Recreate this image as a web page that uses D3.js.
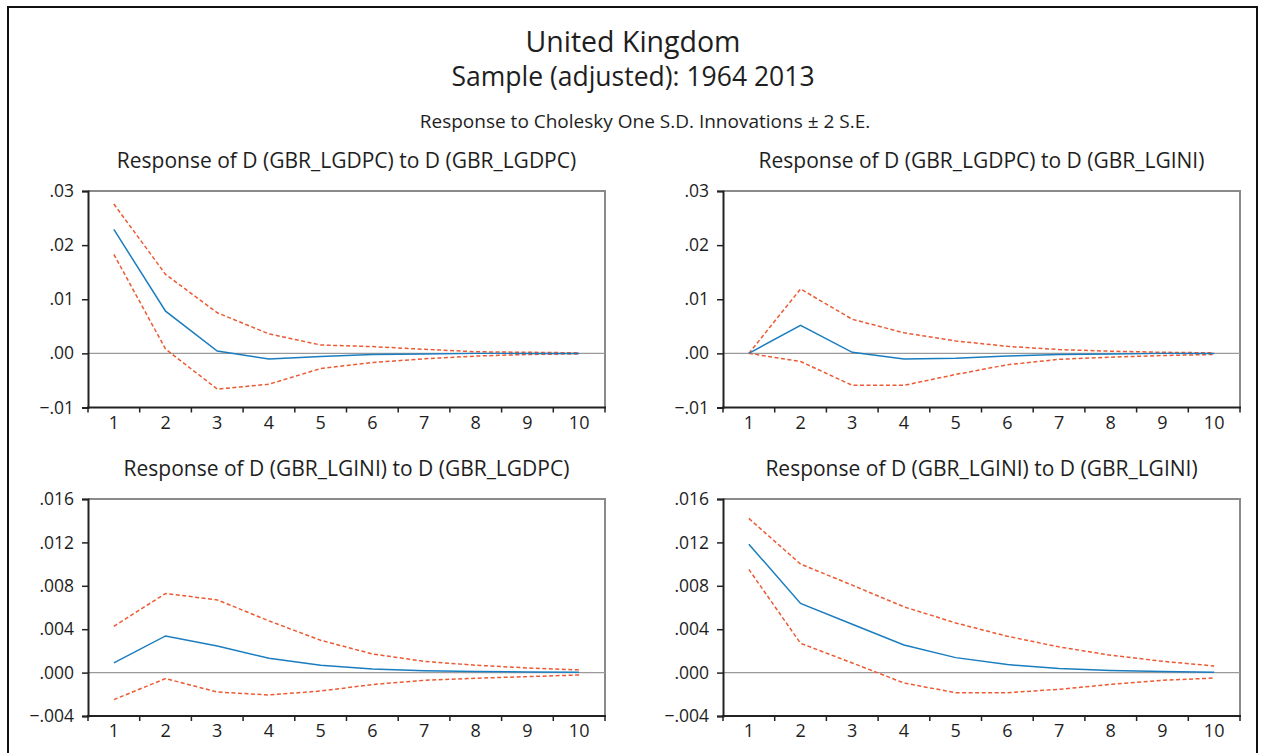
<!DOCTYPE html>
<html>
<head>
<meta charset="utf-8">
<script src="https://cdn.jsdelivr.net/npm/d3@7"></script>
<style>
  body { margin: 0; background: #fff; }
  svg text { font-family: "Open Sans", Lato, sans-serif; fill: #1e1e1e; }
</style>
</head>
<body>
<div id="container"></div>
<script>
/* DATA */
const periods = [1, 2, 3, 4, 5, 6, 7, 8, 9, 10];

const titles = [
  "Response of D (GBR_LGDPC) to D (GBR_LGDPC)",
  "Response of D (GBR_LGDPC) to D (GBR_LGINI)",
  "Response of D (GBR_LGINI) to D (GBR_LGDPC)",
  "Response of D (GBR_LGINI) to D (GBR_LGINI)"
];

// gdp -> gdp
const resp1  = [0.0229, 0.0078, 0.00044, -0.00104, -0.0006, -0.0002, -0.0001, 0.0, 0.0, 0.0];
const upper1 = [0.0276, 0.0146, 0.0075, 0.0036, 0.00155, 0.00125, 0.00075, 0.0003, 0.0002, 0.0001];
const lower1 = [0.0183, 0.0008, -0.0066, -0.0057, -0.0028, -0.0017, -0.001, -0.0005, -0.0002, -0.0001];

// gdp -> gini
const resp2  = [0.0, 0.0052, 0.0002, -0.00105, -0.0009, -0.0005, -0.0002, -0.0001, 0.0, 0.0];
const upper2 = [0.0, 0.0119, 0.0063, 0.0038, 0.0023, 0.0013, 0.0007, 0.0004, 0.0002, 0.0001];
const lower2 = [0.0, -0.0015, -0.0059, -0.0059, -0.0039, -0.0021, -0.0011, -0.0007, -0.0004, -0.0002];

// gini -> gdp
const resp3  = [0.00089, 0.00338, 0.00246, 0.00132, 0.00067, 0.00034, 0.00018, 0.0001, 0.00005, 0.00003];
const upper3 = [0.00427, 0.00729, 0.0067, 0.00477, 0.00298, 0.00172, 0.00104, 0.00068, 0.00043, 0.00025];
const lower3 = [-0.00249, -0.00055, -0.00179, -0.00206, -0.0017, -0.0011, -0.00071, -0.00052, -0.00037, -0.00022];

// gini -> gini
const resp4  = [0.01184, 0.00637, 0.00446, 0.00255, 0.00138, 0.00074, 0.00037, 0.0002, 0.0001, 0.00003];
const upper4 = [0.01421, 0.0100, 0.00806, 0.00606, 0.00458, 0.00335, 0.00237, 0.0016, 0.00104, 0.00061];
const lower4 = [0.00951, 0.0027, 0.00089, -0.00096, -0.00185, -0.00185, -0.00154, -0.00108, -0.00071, -0.0005];

const ticksTop = [-0.01, 0.0, 0.01, 0.02, 0.03];
const tickLabelsTop = ["\u2212.01", ".00", ".01", ".02", ".03"];
const ticksBottom = [-0.004, 0.0, 0.004, 0.008, 0.012, 0.016];
const tickLabelsBottom = ["\u2212.004", ".000", ".004", ".008", ".012", ".016"];

/* LAYOUT */
const width = 1261, height = 753;
const blue = "#1a7dbf", red = "#ec5a33";

const panels = [
  { x0: 88,  x1: 605,  y0: 191, y1: 407.5, title: titles[0], resp: resp1, upper: upper1, lower: lower1, ticks: ticksTop, labels: tickLabelsTop },
  { x0: 723, x1: 1240, y0: 191, y1: 407.5, title: titles[1], resp: resp2, upper: upper2, lower: lower2, ticks: ticksTop, labels: tickLabelsTop },
  { x0: 88,  x1: 605,  y0: 499, y1: 716,   title: titles[2], resp: resp3, upper: upper3, lower: lower3, ticks: ticksBottom, labels: tickLabelsBottom },
  { x0: 723, x1: 1240, y0: 499, y1: 716,   title: titles[3], resp: resp4, upper: upper4, lower: lower4, ticks: ticksBottom, labels: tickLabelsBottom }
];

const svg = d3.select("#container")
  .append("svg")
  .attr("width", width)
  .attr("height", height);

// outer frame
svg.append("rect")
  .attr("x", 8).attr("y", 7)
  .attr("width", 1249).attr("height", 760)
  .attr("fill", "none")
  .attr("stroke", "#111")
  .attr("stroke-width", 2);

// titles
svg.append("text")
  .attr("x", 633).attr("y", 52)
  .attr("text-anchor", "middle")
  .style("font-size", "28.5px")
  .style("font-weight", 500)
  .text("United Kingdom");

svg.append("text")
  .attr("x", 633).attr("y", 86)
  .attr("text-anchor", "middle")
  .style("font-size", "26.5px")
  .text("Sample (adjusted): 1964 2013");

svg.append("text")
  .attr("x", 645).attr("y", 128)
  .attr("text-anchor", "middle")
  .style("font-size", "19px")
  .text("Response to Cholesky One S.D. Innovations \u00b1 2 S.E.");

panels.forEach(p => {
  const g = svg.append("g");

  const x = d3.scaleBand()
    .domain(periods)
    .range([p.x0, p.x1]);

  const y = d3.scaleLinear()
    .domain([p.ticks[0], p.ticks[p.ticks.length - 1]])
    .range([p.y1, p.y0]);

  // subplot title
  g.append("text")
    .attr("x", (p.x0 + p.x1) / 2)
    .attr("y", p.y0 - 23)
    .attr("text-anchor", "middle")
    .style("font-size", "21px")
    .text(p.title);

  // top and right frame (gray)
  g.append("path")
    .attr("d", `M${p.x0},${p.y0}H${p.x1}V${p.y1}`)
    .attr("fill", "none")
    .attr("stroke", "#8a8a8a")
    .attr("stroke-width", 2);

  // zero line
  g.append("line")
    .attr("x1", p.x0).attr("x2", p.x1)
    .attr("y1", y(0)).attr("y2", y(0))
    .attr("stroke", "#9a9a9a")
    .attr("stroke-width", 1.2);

  // y axis
  const yAxis = d3.axisLeft(y)
    .tickValues(p.ticks)
    .tickFormat((d, i) => p.labels[i])
    .tickSize(6)
    .tickPadding(8);
  const ya = g.append("g")
    .attr("transform", `translate(${p.x0},0)`)
    .call(yAxis);
  ya.select(".domain").attr("stroke", "#222").attr("stroke-width", 2);
  ya.selectAll(".tick line").attr("stroke", "#222").attr("stroke-width", 1.5);
  ya.selectAll("text").style("font-size", "17.5px").style("font-family", "'Open Sans', sans-serif").attr("fill", "#1e1e1e");

  // x axis: ticks on band boundaries, labels at centres
  const xa = g.append("g")
    .attr("transform", `translate(0,${p.y1})`);
  xa.append("line")
    .attr("x1", p.x0 - 1).attr("x2", p.x1 + 1)
    .attr("stroke", "#222").attr("stroke-width", 2);
  xa.selectAll(".xtick")
    .data(periods.concat([null]))
    .join("line")
    .attr("class", "xtick")
    .attr("x1", (d, i) => i < periods.length ? x(d) : p.x1)
    .attr("x2", (d, i) => i < periods.length ? x(d) : p.x1)
    .attr("y1", 0).attr("y2", 5)
    .attr("stroke", "#222").attr("stroke-width", 1.5);
  xa.selectAll(".xlabel")
    .data(periods)
    .join("text")
    .attr("class", "xlabel")
    .attr("x", d => x(d) + x.bandwidth() / 2)
    .attr("y", 21)
    .attr("text-anchor", "middle")
    .style("font-size", "18px")
    .text(d => d);

  const line = d3.line()
    .x((d, i) => x(periods[i]) + x.bandwidth() / 2)
    .y(d => y(d));

  [p.upper, p.lower].forEach(s => {
    g.append("path")
      .datum(s)
      .attr("d", line)
      .attr("fill", "none")
      .attr("stroke", red)
      .attr("stroke-width", 1.5)
      .attr("stroke-dasharray", "4,2.5");
  });

  g.append("path")
    .datum(p.resp)
    .attr("d", line)
    .attr("fill", "none")
    .attr("stroke", blue)
    .attr("stroke-width", 1.5);
});
</script>
</body>
</html>
